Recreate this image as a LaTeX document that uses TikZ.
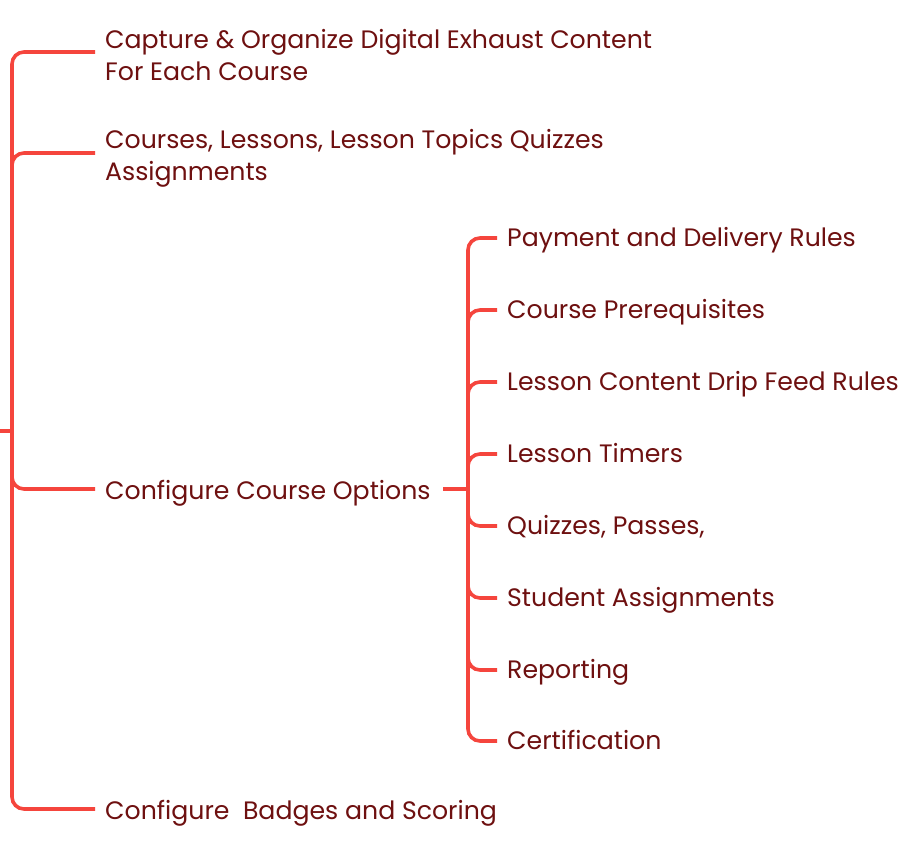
\documentclass[tikz,border=0pt]{standalone}
\usepackage{fontspec}
\setmainfont{Poppins}
\definecolor{linered}{HTML}{F5453D}
\definecolor{textred}{HTML}{6E1010}
\begin{document}
\begin{tikzpicture}[x=1pt,y=-1pt,
  branch/.style={draw=linered,line width=3.6pt,rounded corners=12pt},
  lbl/.style={anchor=base west,inner sep=0pt,text=textred,font=\fontsize{25.2}{32}\selectfont,align=left}]
\useasboundingbox[fill=white] (0,0) rectangle (900,844);
% left bracket
\coordinate (L) at (12,431);
\coordinate (R0) at (0,431);
\draw[branch] (R0) -- (L);
\node[lbl] (t1) at (105,80) {Capture \& Organize Digital Exhaust Content\\For Each Course};
\node[lbl] (t2) at (105,180) {Courses, Lessons, Lesson Topics Quizzes\\Assignments};
\node[lbl] (t3) at (105,499) {Configure Course Options};
\node[lbl] (t4) at (105,819) {Configure\ \ Badges and Scoring};
\coordinate (e1) at (95,52);
\coordinate (e2) at (95,153);
\coordinate (e3) at (95,489);
\coordinate (e4) at (95,809);
\foreach \e in {e1,e2,e3,e4}{\draw[branch] (L) |- (\e);}
% middle bracket
\coordinate (M0) at (443,489);
\coordinate (M) at (468,489);
\draw[branch] (M0) -- (M);
\foreach \n/\y/\t in {s1/238/Payment and Delivery Rules,s2/310/Course Prerequisites,s3/382/Lesson Content Drip Feed Rules,s4/454/Lesson Timers,s5/526/{Quizzes, Passes,},s6/598/Student Assignments,s7/670/Reporting,s8/741/Certification}{
  \node[lbl] (\n) at (507,\y+8) {\t};
  \coordinate (\n e) at (497,\y);
  \draw[branch] (M) |- (\n e);
}
\end{tikzpicture}
\end{document}
